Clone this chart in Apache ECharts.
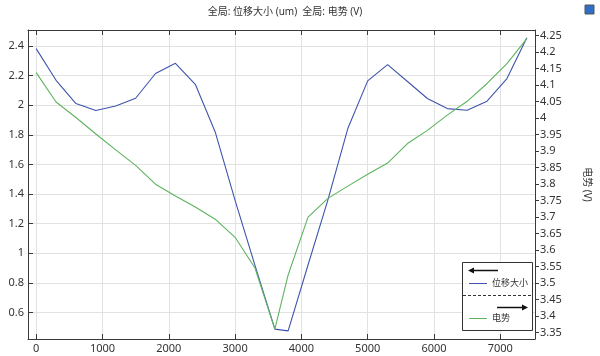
<!DOCTYPE html>
<html>
<head>
<meta charset="utf-8">
<script src="https://cdn.jsdelivr.net/npm/echarts@6/dist/echarts.min.js"></script>
<style>html,body{margin:0;padding:0;background:#fff}#c{width:600px;height:356px}</style>
</head>
<body>
<div id="c"></div>
<script>
// ---- data ----
const arcLength = [0,300,600,900,1200,1500,1800,2100,2400,2700,3000,3300,3600,3800,4100,4400,4700,5000,5300,5600,5900,6200,6500,6800,7100,7400];
const displacement = [2.382,2.168,2.011,1.964,1.995,2.047,2.214,2.283,2.141,1.819,1.357,0.917,0.487,0.475,0.92,1.36,1.842,2.164,2.274,2.16,2.045,1.977,1.966,2.027,2.18,2.455];
const potential = [4.138,4.049,4.002,3.952,3.904,3.857,3.800,3.764,3.731,3.694,3.639,3.546,3.361,3.525,3.700,3.757,3.794,3.830,3.864,3.923,3.963,4.009,4.051,4.105,4.165,4.241];
const xTicks = [0,1000,2000,3000,4000,5000,6000,7000];
const leftTicks = [0.6,0.8,1,1.2,1.4,1.6,1.8,2,2.2,2.4];
const rightTicks = [3.35,3.4,3.45,3.5,3.55,3.6,3.65,3.7,3.75,3.8,3.85,3.9,3.95,4,4.05,4.1,4.15,4.2,4.25];
const titleText = '全局: 位移大小 (um)  全局: 电势 (V)';
const seriesNames = ['位移大小', '电势'];
const rightAxisName = '电势 (V)';

const font = "'Noto Sans','Noto Sans CJK SC',sans-serif";
const blue = '#3f55ad';
const green = '#5eb35e';
const axisCol = '#3a3a3a';
const fmt = v => String(+(+v).toFixed(3));

const chart = echarts.init(document.getElementById('c'), null, {renderer: 'canvas'});
const pairs = (xs, ys) => xs.map((x, i) => [x, ys[i]]);

chart.setOption({
  animation: false,
  backgroundColor: '#fff',
  textStyle: {fontFamily: font},
  title: {
    text: titleText, left: 285, top: 7, textAlign: 'center', padding: 0,
    textStyle: {fontSize: 10, fontWeight: 'normal', color: '#333', fontFamily: font}
  },
  grid: {left: 28, right: 57, top: 30, bottom: 17, containLabel: false},
  xAxis: [{
    type: 'value', min: -123, max: 7523,
    axisLine: {show: true, onZero: false, lineStyle: {color: axisCol, width: 1}},
    axisTick: {show: true, inside: true, length: 5, customValues: xTicks, lineStyle: {color: axisCol}},
    axisLabel: {fontSize: 11, color: '#333', margin: 4, customValues: xTicks, formatter: fmt, fontFamily: font},
    splitLine: {show: true, lineStyle: {color: '#e2e2e2', width: 1}}
  }, {
    type: 'value', position: 'top', min: -123, max: 7523,
    axisLine: {show: true, onZero: false, lineStyle: {color: axisCol, width: 1}},
    axisTick: {show: true, inside: true, length: 5, customValues: xTicks, lineStyle: {color: axisCol}},
    axisLabel: {show: false},
    splitLine: {show: false}
  }],
  yAxis: [{
    type: 'value', min: 0.42, max: 2.508,
    axisLine: {show: true, onZero: false, lineStyle: {color: axisCol, width: 1}},
    axisTick: {show: true, inside: true, length: 5, customValues: leftTicks, lineStyle: {color: axisCol}},
    axisLabel: {fontSize: 11, color: '#333', margin: 4, customValues: leftTicks, formatter: fmt, fontFamily: font},
    splitLine: {show: true, lineStyle: {color: '#e2e2e2', width: 1}}
  }, {
    type: 'value', position: 'right', min: 3.331, max: 4.267,
    name: rightAxisName, nameLocation: 'middle', nameRotate: -90, nameGap: 47,
    nameTextStyle: {fontSize: 10, color: '#333', fontFamily: font},
    axisLine: {show: true, onZero: false, lineStyle: {color: axisCol, width: 1}},
    axisTick: {show: true, inside: false, length: 4, customValues: rightTicks, lineStyle: {color: axisCol}},
    axisLabel: {fontSize: 11, color: '#333', margin: 5, customValues: rightTicks, formatter: fmt, fontFamily: font},
    splitLine: {show: false}
  }],
  legend: {
    orient: 'vertical', left: 469, top: 279, padding: 0, itemGap: 26, itemWidth: 18, itemHeight: 1,
    icon: 'rect',
    textStyle: {fontSize: 9, color: '#333', fontFamily: font},
    data: seriesNames, z: 6, selectedMode: false
  },
  series: [{
    name: seriesNames[0], type: 'line', xAxisIndex: 0, yAxisIndex: 0,
    data: pairs(arcLength, displacement), symbol: 'none', lineStyle: {color: blue, width: 1.1}, itemStyle: {color: blue}
  }, {
    name: seriesNames[1], type: 'line', xAxisIndex: 0, yAxisIndex: 1,
    data: pairs(arcLength, potential), symbol: 'none', lineStyle: {color: green, width: 1.1}, itemStyle: {color: green}
  }],
  graphic: [
    {type: 'rect', z: 5, shape: {x: 462.5, y: 262.5, width: 70, height: 68}, style: {fill: '#fff', stroke: '#333', lineWidth: 1}},
    {type: 'line', z: 7, shape: {x1: 463, y1: 295.5, x2: 532, y2: 295.5}, style: {stroke: '#333', lineWidth: 1, lineDash: [3, 2]}},
    {type: 'line', z: 7, shape: {x1: 472, y1: 270.5, x2: 498, y2: 270.5}, style: {stroke: '#111', lineWidth: 1.5}},
    {type: 'polygon', z: 7, shape: {points: [[468, 270.5], [474, 267.5], [474, 273.5]]}, style: {fill: '#111'}},
    {type: 'line', z: 7, shape: {x1: 497, y1: 307.5, x2: 524, y2: 307.5}, style: {stroke: '#111', lineWidth: 1.5}},
    {type: 'polygon', z: 7, shape: {points: [[528, 307.5], [522, 304.5], [522, 310.5]]}, style: {fill: '#111'}},
    {type: 'rect', z: 7, shape: {x: 585, y: 5, width: 9, height: 9}, style: {fill: '#2f6fc7', stroke: '#555', lineWidth: 1}}
  ]
});
</script>
</body>
</html>
